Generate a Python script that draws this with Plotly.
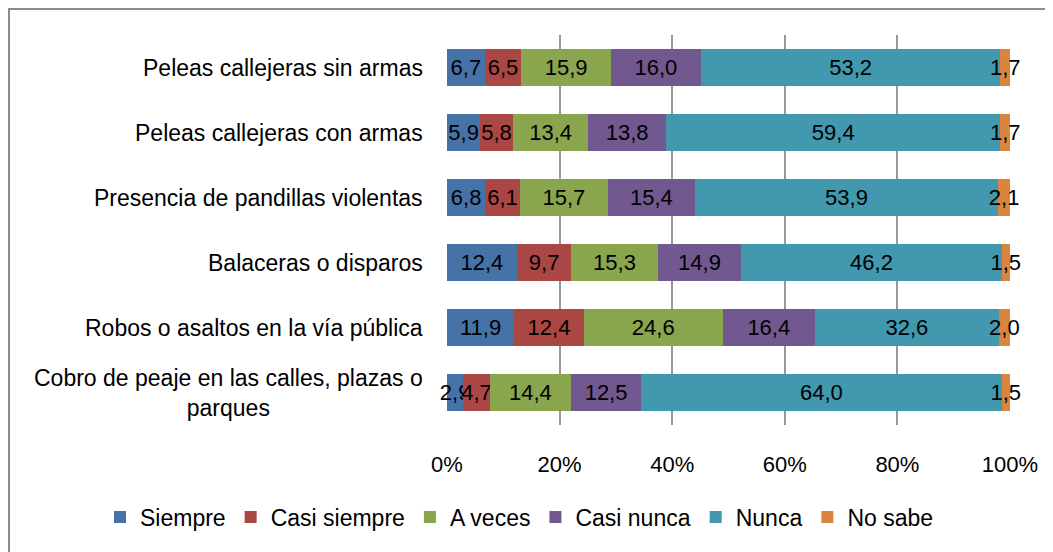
import plotly.graph_objects as go

### Data ###
categories = ['Peleas callejeras sin armas',
              'Peleas callejeras con armas',
              'Presencia de pandillas violentas',
              'Balaceras o disparos',
              'Robos o asaltos en la vía pública',
              'Cobro de peaje en las calles, plazas o<br>parques']

siempre      = [6.7, 5.9, 6.8, 12.4, 11.9, 2.9]
casi_siempre = [6.5, 5.8, 6.1, 9.7, 12.4, 4.7]
a_veces      = [15.9, 13.4, 15.7, 15.3, 24.6, 14.4]
casi_nunca   = [16.0, 13.8, 15.4, 14.9, 16.4, 12.5]
nunca        = [53.2, 59.4, 53.9, 46.2, 32.6, 64.0]
no_sabe      = [1.7, 1.7, 2.1, 1.5, 2.0, 1.5]

series = [('Siempre', siempre, '#4572A7'),
          ('Casi siempre', casi_siempre, '#AA4643'),
          ('A veces', a_veces, '#89A54E'),
          ('Casi nunca', casi_nunca, '#71588F'),
          ('Nunca', nunca, '#4198AF'),
          ('No sabe', no_sabe, '#DB843D')]

x_ticks = [0, 20, 40, 60, 80, 100]
x_tick_labels = ['0%', '20%', '40%', '60%', '80%', '100%']

FONT = 'Liberation Sans'
# page body has an 8px margin, so the figure is drawn 8px shifted
W, H = 1045, 544
L, R, T, B = 439, 43, 27, 127

fig = go.Figure()
for name, vals, color in series:
    fig.add_trace(go.Bar(y=categories, x=vals, name=name, orientation='h',
                         marker_color=color, marker_line_width=0,
                         text=[f'{v:.1f}'.replace('.', ',') for v in vals],
                         textposition='inside', insidetextanchor='middle',
                         textangle=0, cliponaxis=False,
                         textfont=dict(color='black', size=22, family=FONT),
                         constraintext='none'))

# category labels as centered annotations (multi-line label is centered)
for c in categories:
    fig.add_annotation(x=0, xref='paper', y=c, yref='y', text=c,
                       xanchor='right', xshift=-22, align='center',
                       showarrow=False,
                       font=dict(size=23, family=FONT, color='black'))

# outer chart border (right and bottom edges run off the picture)
pw, ph = W - L - R, H - T - B
fig.add_shape(type='rect', xref='paper', yref='paper',
              x0=(1 - L) / pw, x1=(W + 20 - L) / pw,
              y0=-(H + 20 - T - ph) / ph, y1=1 + (T - 1) / ph,
              line=dict(color='#8c8c8c', width=2), layer='below')

fig.update_layout(
    width=W, height=H,
    margin=dict(l=L, r=R, t=T, b=B, autoexpand=False),
    barmode='stack', barnorm='percent', bargap=0.42,
    plot_bgcolor='white', paper_bgcolor='white',
    font=dict(family=FONT, size=22, color='black'),
    uniformtext=dict(minsize=22, mode='show'),
    showlegend=True,
    legend=dict(orientation='h', x=(92 - L) / pw, xanchor='left',
                yanchor='middle', y=-92 / ph, font=dict(size=23),
                traceorder='normal', itemwidth=30, bgcolor='rgba(0,0,0,0)'),
    xaxis=dict(range=[0, 100], tickvals=x_ticks, ticktext=x_tick_labels,
               showgrid=True, gridcolor='#999999', gridwidth=2,
               zeroline=False, showline=False, ticklabelstandoff=24,
               tickfont=dict(size=22), fixedrange=True),
    yaxis=dict(autorange='reversed', showticklabels=False,
               showgrid=False, zeroline=False, showline=False),
)

fig.write_html("out.html")
